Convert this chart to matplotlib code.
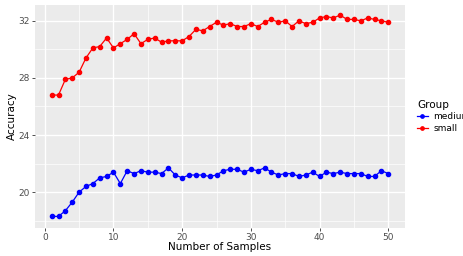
import numpy as np
import matplotlib
matplotlib.use('Agg')
import matplotlib.pyplot as plt
from matplotlib.ticker import MultipleLocator

samples = np.arange(1, 51)
small = [26.8, 26.8, 27.9, 28.0, 28.4, 29.4, 30.1, 30.2, 30.8, 30.1,
         30.4, 30.7, 31.1, 30.4, 30.7, 30.8, 30.5, 30.6, 30.6, 30.6,
         30.9, 31.4, 31.3, 31.6, 31.9, 31.7, 31.8, 31.6, 31.6, 31.8,
         31.6, 31.9, 32.1, 31.9, 32.0, 31.6, 32.0, 31.8, 31.9, 32.2,
         32.3, 32.2, 32.4, 32.1, 32.1, 32.0, 32.2, 32.1, 32.0, 31.9]
medium = [18.3, 18.3, 18.7, 19.3, 20.0, 20.4, 20.6, 21.0, 21.1, 21.4,
          20.6, 21.5, 21.3, 21.5, 21.4, 21.4, 21.3, 21.7, 21.2, 21.0,
          21.2, 21.2, 21.2, 21.1, 21.2, 21.5, 21.6, 21.6, 21.4, 21.6,
          21.5, 21.7, 21.4, 21.2, 21.3, 21.3, 21.1, 21.2, 21.4, 21.1,
          21.4, 21.3, 21.4, 21.3, 21.3, 21.3, 21.1, 21.1, 21.5, 21.3]

fig = plt.figure(figsize=(4.64, 2.56), dpi=100)
ax = fig.add_axes([0.075, 0.11, 0.798, 0.87])
ax.set_facecolor('#EBEBEB')
for s in ax.spines.values():
    s.set_visible(False)

ax.plot(samples, medium, color='blue', lw=0.9, marker='o', ms=3.0, label='medium', zorder=3)
ax.plot(samples, small, color='red', lw=0.9, marker='o', ms=3.0, label='small', zorder=3)

ax.set_xlim(-1.45, 52.45)
ax.set_ylim(17.5, 33.1)
ax.xaxis.set_major_locator(MultipleLocator(10))
ax.xaxis.set_minor_locator(MultipleLocator(5))
ax.set_yticks([20, 24, 28, 32])
ax.set_yticks([18, 22, 26, 30], minor=True)
ax.grid(which='major', color='white', lw=1.0)
ax.grid(which='minor', color='white', lw=0.5)
ax.set_axisbelow(True)
ax.tick_params(which='major', length=2.5, width=0.6, color='#333333',
               labelsize=6.5, labelcolor='#4D4D4D', pad=1.0)
ax.tick_params(which='minor', length=0)

ax.set_xlabel('Number of Samples', fontsize=7.5, labelpad=0)
ax.set_ylabel('Accuracy', fontsize=7.5, labelpad=1)

leg = ax.legend(loc='center left', bbox_to_anchor=(1.01, 0.5), frameon=False,
                title='Group', fontsize=6.5, title_fontsize=7.5,
                handlelength=1.2, handletextpad=0.6, labelspacing=0.3,
                markerscale=0.8)
leg._legend_box.align = 'left'

fig.savefig('out.png', dpi=100)
